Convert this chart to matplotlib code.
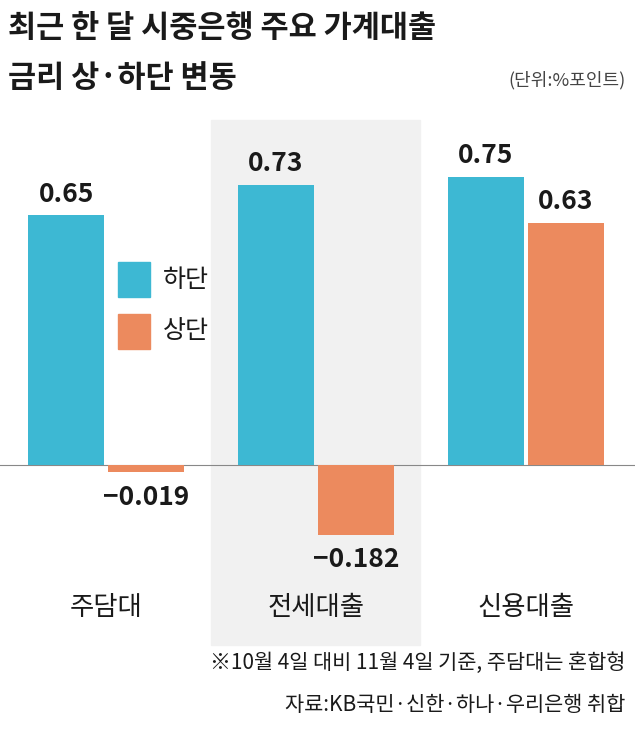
import matplotlib.pyplot as plt
from matplotlib.patches import Rectangle

plt.rcParams["font.family"] = ["Noto Sans CJK KR", "Noto Sans CJK JP",
                               "Noto Sans CJK SC", "DejaVu Sans"]

categories = ["주담대", "전세대출", "신용대출"]
lower = [0.65, 0.73, 0.75]      # 하단
upper = [-0.019, -0.182, 0.63]  # 상단
lower_labels = ["0.65", "0.73", "0.75"]
upper_labels = ["\u22120.019", "\u22120.182", "0.63"]

BLUE = "#3db8d3"
ORANGE = "#ec8a5e"

fig = plt.figure(figsize=(6.35, 7.3), dpi=100)
ax = fig.add_axes([0, 90 / 730, 1, 520 / 730])
ax.set_xlim(-0.505, 2.52)
ax.set_ylim(-0.456, 0.898)
ax.axis("off")

ax.axvspan(0.5, 1.495, ymin=-0.01, ymax=1.0, color="#f1f1f1", zorder=0, clip_on=False)
ax.axhline(0, color="#888888", lw=0.8, zorder=1)

w = 0.36
xs = range(len(categories))
ax.bar([x - 0.19 for x in xs], lower, w, color=BLUE, zorder=2)
ax.bar([x + 0.19 for x in xs], upper, w, color=ORANGE, zorder=2)

for x, v, t in zip(xs, lower, lower_labels):
    ax.text(x - 0.19, v + 0.02, t, ha="center", va="bottom", fontsize=19,
            fontweight="bold", color="#1a1a1a")
for x, v, t in zip(xs, upper, upper_labels):
    if v >= 0:
        ax.text(x + 0.19, v + 0.02, t, ha="center", va="bottom", fontsize=19,
                fontweight="bold", color="#1a1a1a")
    else:
        ax.text(x + 0.19, v - 0.03, t, ha="center", va="top", fontsize=19,
                fontweight="bold", color="#1a1a1a")
for x, c in zip(xs, categories):
    ax.text(x, -0.372, c, ha="center", va="center", fontsize=19, color="#1a1a1a")

# legend
fig.patches.append(Rectangle((118 / 635, 1 - 297 / 730), 32 / 635, 35 / 730,
                             transform=fig.transFigure, color=BLUE))
fig.patches.append(Rectangle((118 / 635, 1 - 349 / 730), 32 / 635, 35 / 730,
                             transform=fig.transFigure, color=ORANGE))
fig.text(163 / 635, 1 - 280 / 730, "하단", fontsize=18, va="center", color="#1a1a1a")
fig.text(163 / 635, 1 - 331 / 730, "상단", fontsize=18, va="center", color="#1a1a1a")

fig.text(0.012, 1 - 28 / 730, "최근 한 달 시중은행 주요 가계대출", fontsize=22,
         fontweight="bold", va="center", color="#1a1a1a")
fig.text(0.012, 1 - 78 / 730, "금리 상·하단 변동", fontsize=22,
         fontweight="bold", va="center", color="#1a1a1a")
fig.text(0.985, 1 - 80 / 730, "(단위:%포인트)", fontsize=13, ha="right",
         va="center", color="#444444")
fig.text(0.985, 1 - 663 / 730, "※10월 4일 대비 11월 4일 기준, 주담대는 혼합형",
         fontsize=15, ha="right", va="center", color="#1a1a1a")
fig.text(0.985, 1 - 705 / 730, "자료:KB국민·신한·하나·우리은행 취합",
         fontsize=15, ha="right", va="center", color="#1a1a1a")

fig.savefig("out.png", dpi=100, facecolor="white")
